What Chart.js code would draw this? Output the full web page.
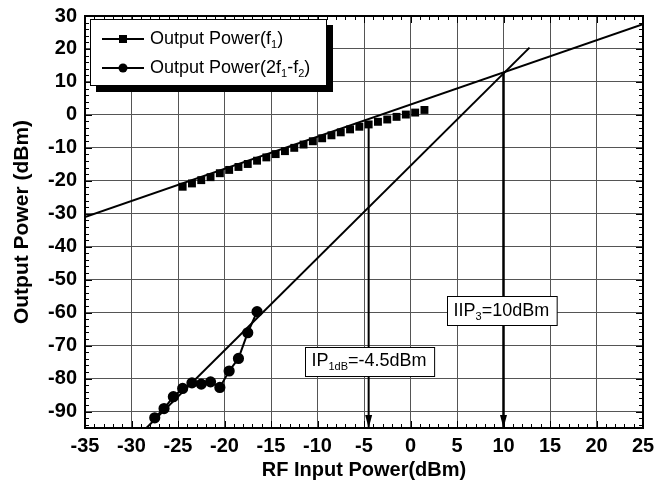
<!DOCTYPE html>
<html><head><meta charset="utf-8">
<script src="https://cdn.jsdelivr.net/npm/chart.js@4.4.0/dist/chart.umd.min.js"></script>
<style>html,body{margin:0;padding:0;background:#fff}#wrap{width:670px;height:491px;position:relative}</style>
</head><body><div id="wrap"><canvas id="c" width="670" height="491"></canvas></div>
<script>
// ---- data ----
const xTicks = [-35,-30,-25,-20,-15,-10,-5,0,5,10,15,20,25];
const yTicks = [-90,-80,-70,-60,-50,-40,-30,-20,-10,0,10,20,30];
const f1X = [-24.5,-23.5,-22.5,-21.5,-20.5,-19.5,-18.5,-17.5,-16.5,-15.5,-14.5,-13.5,-12.5,-11.5,-10.5,-9.5,-8.5,-7.5,-6.5,-5.5,-4.5,-3.5,-2.5,-1.5,-0.5,0.5,1.5];
const f1Y = [-21.8,-20.8,-19.8,-18.9,-17.7,-16.7,-15.8,-14.9,-13.9,-12.9,-11.9,-11.0,-10.0,-9.0,-8.0,-7.1,-6.2,-5.3,-4.4,-3.6,-2.9,-2.1,-1.4,-0.6,0.1,0.7,1.5];
const im3X = [-27.5,-26.5,-25.5,-24.5,-23.5,-22.5,-21.5,-20.5,-19.5,-18.5,-17.5,-16.5];
const im3Y = [-91.9,-89.1,-85.5,-83.0,-81.3,-81.7,-81.0,-82.7,-77.7,-73.9,-66.1,-59.7];
const f1FitX = [-35,25];
const f1FitY = [-31,27.5];
const im3FitX = [-28.4,12.8];
const im3FitY = [-95,20.4];
const p1dbX = [-4.5,-4.5];
const p1dbY = [-3.6,-95];
const iip3X = [10,10];
const iip3Y = [13,-95];
const xMin = -35, xMax = 25, yMin = -95, yMax = 30;

const FONT = '"Liberation Sans", Arial, Helvetica, sans-serif';
const pts = (xs, ys) => xs.map((x, i) => ({x, y: ys[i]}));

const legendItems = [
  {parts:[{t:'Output Power(f'},{t:'1',sub:true},{t:')'}], style:'rect'},
  {parts:[{t:'Output Power(2f'},{t:'1',sub:true},{t:'-f'},{t:'2',sub:true},{t:')'}], style:'circle'}
];
const notes = [
  {x:-11.3, y:-74.8, parts:[{t:'IP'},{t:'1dB',sub:true},{t:'=-4.5dBm'}]},
  {x:3.9, y:-59.5, parts:[{t:'IIP'},{t:'3',sub:true},{t:'=10dBm'}]}
];

function drawRich(ctx, parts, x, y, size, subSize, measureOnly) {
  let cx = x;
  for (const p of parts) {
    ctx.font = (p.sub ? subSize : size) + 'px ' + FONT;
    if (!measureOnly) ctx.fillText(p.t, cx, p.sub ? y + size * 0.33 : y);
    cx += ctx.measureText(p.t).width;
  }
  return cx - x;
}

const decor = {
  id: 'decor',
  afterDatasetsDraw(chart) {
    const {ctx, chartArea: a, scales: {x, y}} = chart;
    ctx.save();
    ctx.strokeStyle = '#000';
    ctx.fillStyle = '#000';
    // inward ticks
    ctx.lineWidth = 1;
    ctx.beginPath();
    for (let v = xMin; v <= xMax; v++) {
      const px = Math.round(x.getPixelForValue(v)) + 0.5;
      const len = (v % 5 === 0) ? 7 : 4;
      ctx.moveTo(px, a.bottom); ctx.lineTo(px, a.bottom - len);
      ctx.moveTo(px, a.top); ctx.lineTo(px, a.top + len);
    }
    for (let v = -94; v <= yMax; v += 2) {
      const py = Math.round(y.getPixelForValue(v)) + 0.5;
      const len = (v % 10 === 0) ? 7 : 4;
      ctx.moveTo(a.left, py); ctx.lineTo(a.left + len, py);
      ctx.moveTo(a.right, py); ctx.lineTo(a.right - len, py);
    }
    ctx.stroke();
    // frame
    ctx.lineWidth = 2;
    ctx.strokeRect(a.left, a.top, a.right - a.left, a.bottom - a.top);
    // arrowheads
    [[p1dbX, p1dbY], [iip3X, iip3Y]].forEach(([xs, ys]) => {
      const px = x.getPixelForValue(xs[1]);
      const py = y.getPixelForValue(ys[1]);
      ctx.beginPath();
      ctx.moveTo(px, py);
      ctx.lineTo(px - 3.5, py - 13);
      ctx.lineTo(px + 3.5, py - 13);
      ctx.closePath();
      ctx.fill();
    });
    // annotation boxes
    ctx.textBaseline = 'middle';
    notes.forEach(n => {
      const w = drawRich(ctx, n.parts, 0, 0, 18, 11, true);
      const bx = Math.round(x.getPixelForValue(n.x)) + 0.5;
      const cy = y.getPixelForValue(n.y);
      const h = 29;
      const by = Math.round(cy - h / 2) + 0.5;
      ctx.fillStyle = '#fff';
      ctx.fillRect(bx, by, w + 14, h);
      ctx.lineWidth = 1;
      ctx.strokeStyle = '#000';
      ctx.strokeRect(bx, by, w + 14, h);
      ctx.fillStyle = '#000';
      drawRich(ctx, n.parts, bx + 6, cy, 18, 11);
    });
    // legend
    const lx = a.left + 5, ly = a.top + 3, lw = 237, lh = 67;
    ctx.fillStyle = '#000';
    ctx.fillRect(lx + 6, ly + 6, lw, lh);
    ctx.fillStyle = '#fff';
    ctx.fillRect(lx, ly, lw, lh);
    ctx.lineWidth = 1;
    ctx.strokeRect(lx + 0.5, ly + 0.5, lw - 1, lh - 1);
    ctx.fillStyle = '#000';
    legendItems.forEach((it, i) => {
      const cy = ly + 20 + i * 29;
      ctx.lineWidth = 2;
      ctx.beginPath();
      ctx.moveTo(lx + 12, cy); ctx.lineTo(lx + 54, cy);
      ctx.stroke();
      const mx = lx + 33;
      if (it.style === 'rect') {
        ctx.fillRect(mx - 4, cy - 4, 8, 8);
      } else {
        ctx.beginPath(); ctx.arc(mx, cy, 4.5, 0, Math.PI * 2); ctx.fill();
      }
      drawRich(ctx, it.parts, lx + 60, cy, 18, 11);
    });
    ctx.restore();
  }
};

new Chart(document.getElementById('c'), {
  type: 'scatter',
  data: {
    datasets: [
      {data: pts(f1X, f1Y), pointStyle: 'rect', pointRadius: 5.6, backgroundColor: '#000', borderColor: '#000', borderWidth: 0, showLine: false},
      {data: pts(im3X, im3Y), pointStyle: 'circle', pointRadius: 4.6, backgroundColor: '#000', borderColor: '#000', borderWidth: 2, showLine: true},
      {data: pts(f1FitX, f1FitY), showLine: true, pointRadius: 0, borderColor: '#000', borderWidth: 2},
      {data: pts(im3FitX, im3FitY), showLine: true, pointRadius: 0, borderColor: '#000', borderWidth: 2},
      {data: pts(p1dbX, p1dbY), showLine: true, pointRadius: 0, borderColor: '#000', borderWidth: 2},
      {data: pts(iip3X, iip3Y), showLine: true, pointRadius: 0, borderColor: '#000', borderWidth: 2.5}
    ]
  },
  options: {
    responsive: false,
    devicePixelRatio: 1,
    animation: false,
    layout: {padding: {left: 0, right: 27, top: 16, bottom: 0}},
    plugins: {legend: {display: false}, tooltip: {enabled: false}},
    scales: {
      x: {
        type: 'linear', min: xMin, max: xMax, position: 'bottom',
        afterBuildTicks: s => { s.ticks = xTicks.map(v => ({value: v})); },
        afterFit: s => { s.height = 63; s.paddingLeft = 0; s.paddingRight = 0; },
        border: {display: false},
        grid: {drawTicks: false, lineWidth: 1, color: c => (c.tick && (c.tick.value === xMin || c.tick.value === xMax)) ? 'rgba(0,0,0,0)' : '#555'},
        ticks: {color: '#000', padding: 6, maxRotation: 0, autoSkip: false, font: {family: FONT, size: 20, weight: 'bold'}},
        title: {display: true, text: 'RF Input Power(dBm)', color: '#000', font: {family: FONT, size: 20, weight: 'bold'}, padding: {top: 0, bottom: 9}}
      },
      y: {
        type: 'linear', min: yMin, max: yMax,
        afterBuildTicks: s => { s.ticks = yTicks.map(v => ({value: v})); },
        afterFit: s => { s.width = 85; s.paddingTop = 0; s.paddingBottom = 0; },
        border: {display: false},
        grid: {drawTicks: false, lineWidth: 1, color: c => (c.tick && c.tick.value === yMax) ? 'rgba(0,0,0,0)' : '#555'},
        ticks: {color: '#000', padding: 8, autoSkip: false, font: {family: FONT, size: 20, weight: 'bold'}},
        title: {display: true, text: 'Output Power (dBm)', color: '#000', font: {family: FONT, size: 21, weight: 'bold'}, padding: {top: 10, bottom: 0}}
      }
    }
  },
  plugins: [decor]
});
</script>
</body></html>
